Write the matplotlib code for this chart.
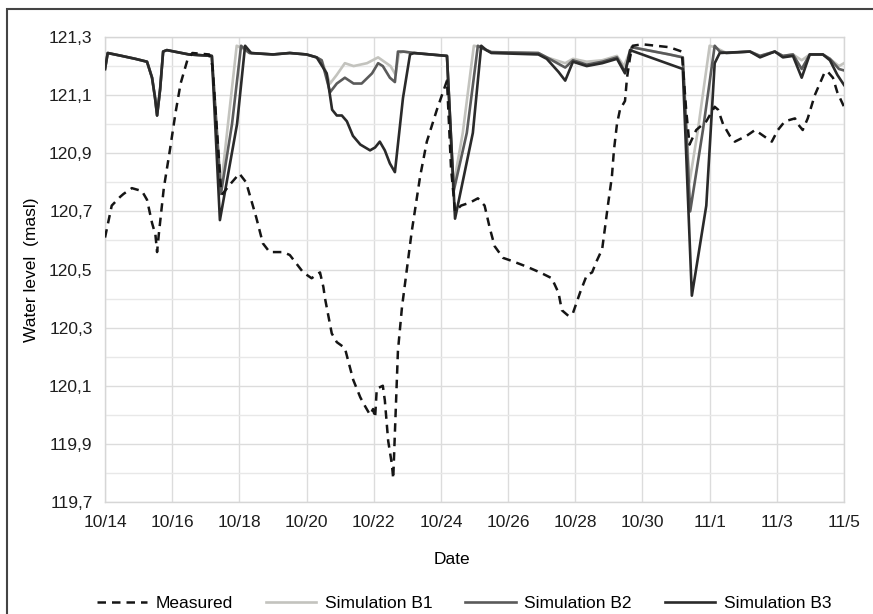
import matplotlib
matplotlib.use('Agg')
import matplotlib.pyplot as plt
from matplotlib.patches import Rectangle
import numpy as np

plt.rcParams['font.family'] = ['Liberation Sans', 'DejaVu Sans']

# time in days after 10/14
date_ticks = [0, 2, 4, 6, 8, 10, 12, 14, 16, 18, 20, 22]
date_labels = ['10/14', '10/16', '10/18', '10/20', '10/22', '10/24', '10/26',
               '10/28', '10/30', '11/1', '11/3', '11/5']
level_ticks = [119.7, 119.9, 120.1, 120.3, 120.5, 120.7, 120.9, 121.1, 121.3]
level_labels = ['119,7', '119,9', '120,1', '120,3', '120,5', '120,7', '120,9',
                '121,1', '121,3']

meas_t = [0.0, 0.2, 0.45, 0.55, 0.8, 1.1, 1.25, 1.4, 1.5, 1.55, 1.6, 1.75, 1.93,
          2.1, 2.25, 2.45, 2.6, 3.1, 3.2, 3.45, 3.5, 3.7, 4.0, 4.2, 4.5, 4.7, 4.9,
          5.3, 5.5, 5.7, 5.9, 6.15, 6.4, 6.5, 6.55, 6.75, 6.9, 7.14, 7.23, 7.39,
          7.6, 7.74, 7.89, 7.98, 8.04, 8.09, 8.27, 8.33, 8.43, 8.54, 8.58, 8.63,
          8.72, 8.84, 9.13, 9.38, 9.58, 9.88, 10.18, 10.3, 10.42, 10.6, 10.86,
          11.1, 11.3, 11.46, 11.6, 11.85, 12.1, 12.55, 12.95, 13.3, 13.5, 13.6,
          13.8, 13.93, 14.14, 14.34, 14.5, 14.64, 14.8, 14.88, 14.97, 15.09,
          15.15, 15.24, 15.33, 15.48, 15.54, 15.63, 15.71, 16.0, 16.8, 17.17,
          17.3, 17.4, 17.6, 17.9, 18.15, 18.25, 18.4, 18.6, 18.75, 19.1, 19.35,
          19.6, 19.85, 20.03, 20.24, 20.54, 20.63, 20.77, 20.92, 21.13, 21.28,
          21.43, 21.52, 21.67, 21.8, 22.0]
meas_v = [120.61, 120.72, 120.75, 120.76, 120.78, 120.77, 120.74, 120.66, 120.62,
          120.56, 120.62, 120.78, 120.91, 121.04, 121.14, 121.22, 121.245, 121.24,
          121.20, 120.78, 120.76, 120.79, 120.83, 120.80, 120.68, 120.59, 120.56,
          120.56, 120.55, 120.52, 120.49, 120.47, 120.49, 120.44, 120.40, 120.28,
          120.25, 120.23, 120.19, 120.12, 120.06, 120.03, 120.00, 120.02, 119.99,
          120.09, 120.10, 120.05, 119.91, 119.83, 119.78, 119.94, 120.22, 120.37,
          120.63, 120.82, 120.94, 121.05, 121.15, 120.85, 120.70, 120.72, 120.73,
          120.745, 120.72, 120.64, 120.58, 120.54, 120.53, 120.51, 120.49, 120.47,
          120.42, 120.36, 120.34, 120.35, 120.42, 120.48, 120.49, 120.53, 120.57,
          120.64, 120.72, 120.82, 120.91, 121.0, 121.05, 121.08, 121.16, 121.23,
          121.27, 121.275, 121.265, 121.25, 121.05, 120.93, 120.98, 121.01, 121.06,
          121.05, 121.0, 120.96, 120.94, 120.96, 120.98, 120.96, 120.94, 120.98,
          121.01, 121.02, 121.0, 120.98, 121.02, 121.1, 121.14, 121.18, 121.18,
          121.16, 121.11, 121.06]

b1_t = [0.0, 0.08, 0.5, 0.9, 1.25, 1.4, 1.49, 1.55, 1.64, 1.73, 1.84, 2.5, 3.18,
        3.45, 3.66, 3.92, 4.1, 4.3, 5.0, 5.5, 6.0, 6.3, 6.45, 6.7, 6.9, 7.14, 7.4,
        7.8, 8.13, 8.5, 8.65, 8.75, 8.9, 9.2, 10.18, 10.36, 10.65, 10.98, 11.2,
        11.5, 12.9, 13.15, 13.7, 13.93, 14.34, 14.8, 15.24, 15.45, 15.68, 16.8,
        17.2, 17.4, 17.65, 18.0, 18.15, 18.5, 19.2, 19.5, 19.94, 20.18, 20.48,
        20.74, 20.98, 21.37, 21.58, 21.85, 22.0]
b1_v = [121.19, 121.245, 121.235, 121.225, 121.215, 121.16, 121.09, 121.03,
        121.12, 121.25, 121.255, 121.24, 121.235, 120.78, 121.0, 121.27, 121.26,
        121.245, 121.24, 121.245, 121.24, 121.23, 121.22, 121.14, 121.17, 121.21,
        121.2, 121.21, 121.23, 121.2, 121.17, 121.245, 121.25, 121.245, 121.235,
        120.78, 120.97, 121.27, 121.265, 121.248, 121.245, 121.23, 121.21, 121.225,
        121.215, 121.22, 121.235, 121.2, 121.265, 121.24, 121.23, 120.80, 120.98,
        121.27, 121.265, 121.245, 121.25, 121.235, 121.25, 121.235, 121.24, 121.22,
        121.24, 121.24, 121.225, 121.2, 121.21]

b2_t = [0.0, 0.08, 0.5, 0.9, 1.25, 1.4, 1.49, 1.55, 1.64, 1.73, 1.84, 2.5, 3.18,
        3.45, 3.78, 4.05, 4.3, 5.0, 5.5, 6.0, 6.3, 6.45, 6.7, 6.9, 7.14, 7.4, 7.64,
        7.95, 8.13, 8.27, 8.48, 8.63, 8.72, 8.87, 9.2, 10.18, 10.38, 10.77, 11.1,
        11.25, 11.5, 12.9, 13.15, 13.7, 13.93, 14.34, 14.8, 15.24, 15.48, 15.68,
        16.8, 17.2, 17.42, 17.8, 18.15, 18.3, 18.5, 19.2, 19.5, 19.94, 20.18,
        20.48, 20.74, 20.98, 21.37, 21.58, 21.85, 22.0]
b2_v = [121.19, 121.245, 121.235, 121.225, 121.215, 121.16, 121.09, 121.03,
        121.12, 121.25, 121.255, 121.24, 121.235, 120.76, 121.0, 121.27, 121.245,
        121.24, 121.245, 121.24, 121.23, 121.22, 121.11, 121.14, 121.16, 121.14,
        121.14, 121.175, 121.21, 121.2, 121.16, 121.145, 121.25, 121.25, 121.245,
        121.235, 120.77, 120.97, 121.27, 121.26, 121.248, 121.245, 121.23, 121.195,
        121.22, 121.205, 121.215, 121.23, 121.18, 121.265, 121.24, 121.23, 120.70,
        120.98, 121.27, 121.25, 121.245, 121.25, 121.235, 121.25, 121.235, 121.24,
        121.19, 121.24, 121.24, 121.225, 121.19, 121.185]

b3_t = [0.0, 0.08, 0.5, 0.9, 1.25, 1.4, 1.49, 1.55, 1.64, 1.73, 1.84, 2.5, 3.18,
        3.42, 3.93, 4.17, 4.35, 5.0, 5.5, 6.0, 6.3, 6.6, 6.76, 6.9, 7.05, 7.2,
        7.38, 7.6, 7.89, 8.04, 8.18, 8.33, 8.48, 8.63, 8.87, 9.08, 9.2, 10.18,
        10.42, 10.95, 11.2, 11.35, 11.5, 12.9, 13.15, 13.5, 13.7, 13.93, 14.34,
        14.8, 15.24, 15.48, 15.63, 17.2, 17.47, 17.9, 18.15, 18.3, 19.2, 19.5,
        19.94, 20.18, 20.48, 20.74, 20.98, 21.37, 21.58, 21.8, 22.0]
b3_v = [121.19, 121.245, 121.235, 121.225, 121.215, 121.16, 121.09, 121.03,
        121.12, 121.25, 121.255, 121.24, 121.235, 120.67, 121.0, 121.27, 121.245,
        121.24, 121.245, 121.24, 121.23, 121.175, 121.05, 121.03, 121.03, 121.01,
        120.96, 120.93, 120.91, 120.92, 120.94, 120.91, 120.865, 120.835, 121.09,
        121.24, 121.245, 121.235, 120.675, 120.97, 121.27, 121.255, 121.245,
        121.24, 121.225, 121.18, 121.15, 121.215, 121.2, 121.21, 121.225, 121.175,
        121.255, 121.19, 120.41, 120.72, 121.21, 121.245, 121.25, 121.23, 121.25,
        121.23, 121.235, 121.16, 121.24, 121.24, 121.22, 121.17, 121.135]

fig = plt.figure(figsize=(8.73, 6.14), dpi=100)
ax = fig.add_axes([0.1203, 0.1824, 0.8465, 0.7573])

lw = 1.9
ax.plot(b1_t, b1_v, color='#c3c3be', lw=lw, label='Simulation B1', zorder=3,
        solid_joinstyle='round')
ax.plot(b2_t, b2_v, color='#5a5a5a', lw=lw, label='Simulation B2', zorder=4,
        solid_joinstyle='round')
ax.plot(b3_t, b3_v, color='#2a2a2a', lw=lw, label='Simulation B3', zorder=5,
        solid_joinstyle='round')
ml, = ax.plot(meas_t, meas_v, color='#151515', lw=1.8, ls='--', label='Measured', zorder=6)
ml.set_dashes((3.4, 2.4))

ax.set_xlim(0, 22)
ax.set_ylim(119.7, 121.3)
ax.set_xticks(date_ticks)
ax.set_xticklabels(date_labels)
ax.set_yticks(level_ticks)
ax.set_yticklabels(level_labels)
ax.set_yticks(np.arange(119.8, 121.3, 0.2), minor=True)
ax.tick_params(axis='both', which='both', length=0, labelsize=12.5, colors='#1e1e1e')
ax.tick_params(axis='x', pad=9)
ax.tick_params(axis='y', pad=9)
ax.grid(True, which='major', color='#dcdcdc', lw=1.0)
ax.grid(True, which='minor', axis='y', color='#e8e8e8', lw=1.0)
ax.set_axisbelow(True)
for s in ax.spines.values():
    s.set_color('#d6d6d6')
    s.set_linewidth(1.0)

ax.set_ylabel('Water level  (masl)', fontsize=12.5, labelpad=7)
fig.text(452/873, 1 - 560/614, 'Date', fontsize=12.5, ha='center', va='center')

h, l = ax.get_legend_handles_labels()
order = [3, 0, 1, 2]
fig.legend([h[i] for i in order], [l[i] for i in order], loc='center',
           bbox_to_anchor=(464/873, 1 - 603/614), ncol=4, frameon=False,
           fontsize=12.5, handlelength=2.9, handletextpad=0.5, columnspacing=1.9)

# outer frame, cut off at right and bottom
fig.add_artist(Rectangle((7/873, -0.2), 1.2, 1.2 - 9/614, transform=fig.transFigure,
                         fill=False, lw=1.5, edgecolor='#444444'))

fig.savefig('out.png', dpi=100)
